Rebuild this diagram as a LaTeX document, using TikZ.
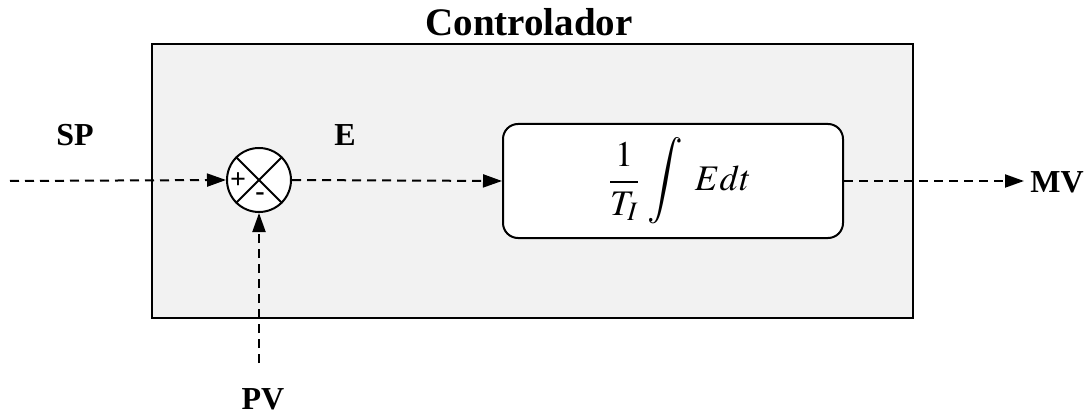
\documentclass[tikz,border=0pt]{standalone}
\usepackage{mathptmx}
\usepackage{fontspec}
\setmainfont{Liberation Serif}
\usetikzlibrary{arrows.meta}
\definecolor{panel}{HTML}{F2F2F2}
\tikzset{
  conn/.style={line width=2pt, dash pattern=on 9pt off 6pt, -{Triangle[length=19pt,width=13pt]}},
  lbl/.style={font=\fontsize{32}{34}\selectfont\bfseries, inner sep=0pt},
  panelbox/.style={draw, line width=2pt, fill=panel},
  blockbox/.style={draw, line width=2pt, fill=white, rounded corners=15pt, minimum width=340pt, minimum height=114pt, inner sep=0pt},
  sumnode/.style={draw, line width=2pt, circle, fill=white, minimum size=64pt, inner sep=0pt},
  signlbl/.style={font=\fontsize{28}{28}\selectfont\bfseries, inner sep=0pt},
}
\begin{document}
\begin{tikzpicture}[x=1pt,y=-1pt]
\useasboundingbox (0,0) rectangle (1092,414);
\draw[panelbox] (152,44) rectangle (913,318);
\node[lbl, font=\fontsize{39}{41}\selectfont\bfseries, anchor=base] (title) at (529,36) {Controlador};
\node[sumnode] (sum) at (259,180) {};
\draw[line width=2pt] (sum.north west) -- (sum.south east);
\draw[line width=2pt] (sum.north east) -- (sum.south west);
\node[signlbl] (plus) at (238,181) {+};
\node[signlbl] (minus) at (260,197) {-};
\node[blockbox] (blk) at (673,181) {};
\node[inner sep=0pt] (formula) at (680,181) {\fontsize{36}{40}\selectfont$\displaystyle\frac{1}{T_I}\;\raisebox{-1pt}{\scalebox{1.1}[1.2]{$\displaystyle\int$}}\;\, Edt$};
\coordinate (spin) at (10,181);
\coordinate (pvin) at (259,363);
\coordinate (mvout) at (1024,181);
\draw[conn] (spin) -- (sum.west);
\draw[conn] (sum.east) -- (blk.west);
\draw[conn] (blk.east) -- (mvout);
\draw[conn] (pvin) -- (sum.south);
\node[lbl] (sp) at (75,135) {SP};
\node[lbl] (e) at (345,135) {E};
\node[lbl] (mv) at (1057,182) {MV};
\node[lbl] (pv) at (263,399) {PV};
\end{tikzpicture}
\end{document}
